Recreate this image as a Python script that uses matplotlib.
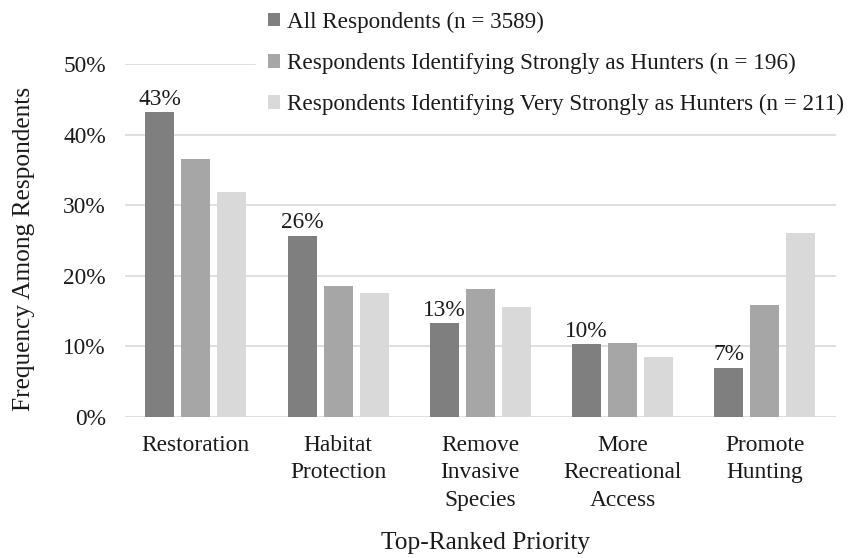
import matplotlib
matplotlib.use("Agg")
import matplotlib.pyplot as plt
import numpy as np

categories = ["Restoration", "Habitat\nProtection", "Remove\nInvasive\nSpecies",
              "More\nRecreational\nAccess", "Promote\nHunting"]
series_names = ["All Respondents (n = 3589)",
                "Respondents Identifying Strongly as Hunters (n = 196)",
                "Respondents Identifying Very Strongly as Hunters (n = 211)"]
all_resp = [43.2, 25.7, 13.3, 10.3, 7.0]
strong = [36.5, 18.5, 18.2, 10.5, 15.8]
very_strong = [31.8, 17.5, 15.6, 8.5, 26.1]
yticks = [0, 10, 20, 30, 40, 50]

colors = ["#7f7f7f", "#a6a6a6", "#d9d9d9"]
txt = "#1a1a1a"
FS = 16.8
FL = 16.7
FT = 18.3

plt.rcParams["font.family"] = ["Liberation Serif", "DejaVu Serif"]
plt.rcParams["font.size"] = FS

fig = plt.figure(figsize=(8.48, 5.58), dpi=100)
ax = fig.add_axes([0.147, 0.2527, 0.839, 0.6326])

x = np.arange(len(categories))
w = 0.204
off = 0.253
data = [all_resp, strong, very_strong]
bars = []
for i, (vals, c, name) in enumerate(zip(data, colors, series_names)):
    b = ax.bar(x + (i - 1) * off, vals, width=w, color=c, label=name, zorder=2)
    bars.append(b)

for rect, v in zip(bars[0], all_resp):
    ax.text(rect.get_x() + rect.get_width() / 2, v + 0.3, f"{v:.0f}%",
            ha="center", va="bottom", fontsize=FS, color=txt)

ax.set_xlim(-0.5, len(categories) - 0.5)
ax.set_ylim(0, 50)
ax.set_yticks(yticks)
ax.set_yticklabels([f"{t}%" for t in yticks])
ax.set_xticks(x)
ax.set_xticklabels(categories, linespacing=1.4)
ax.tick_params(axis="both", length=0, colors=txt, labelsize=FS)
ax.tick_params(axis="y", pad=13.5)
ax.tick_params(axis="x", pad=13)
ax.grid(axis="y", color="#d9d9d9", linewidth=1.2, zorder=0)
ax.set_axisbelow(True)
for s in ax.spines.values():
    s.set_visible(False)

fig.text(24 / 848, 1 - 249 / 558, "Frequency Among Respondents", rotation=90,
         ha="center", va="center", fontsize=FT, color=txt)
fig.text(485.5 / 848, 1 - 543 / 558, "Top-Ranked Priority", ha="center", va="center",
         fontsize=FT, color=txt)

leg = ax.legend(loc="upper left", bbox_to_anchor=(256 / 848, 1.0),
                bbox_transform=fig.transFigure, frameon=True, fancybox=False,
                edgecolor="white", facecolor="white", framealpha=1,
                handlelength=0.53, handleheight=0.53, handletextpad=0.3,
                labelspacing=0.86, borderpad=0.5, borderaxespad=0, fontsize=FL)
for t in leg.get_texts():
    t.set_color(txt)
leg.set_zorder(5)

fig.savefig("out.png", dpi=100, facecolor="white")
